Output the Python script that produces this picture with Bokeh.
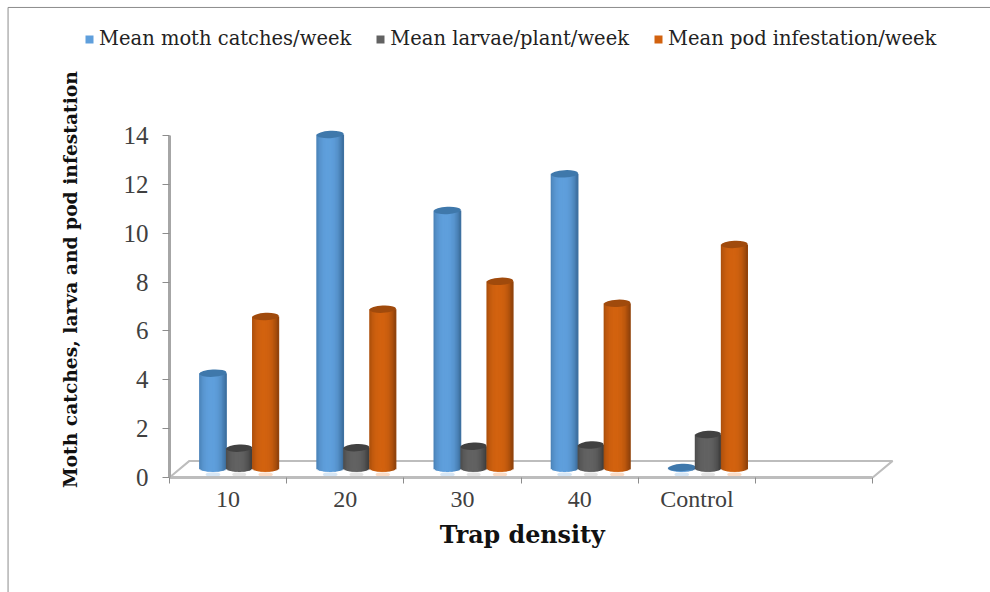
import math
from bokeh.plotting import figure
from bokeh.models import (ColumnDataSource, FixedTicker, Label, Legend, LegendItem,
                          LinearAxis, Range1d)
from bokeh.embed import file_html
from bokeh.resources import INLINE

categories = ["10", "20", "30", "40", "Control"]
moth = [3.89, 13.66, 10.55, 12.05, 0.03]
larvae = [0.82, 0.84, 0.9, 0.95, 1.38]
pods = [6.21, 6.51, 7.65, 6.75, 9.16]
series_names = ["Mean moth catches/week", "Mean larvae/plant/week", "Mean pod infestation/week"]
y_ticks = [0, 2, 4, 6, 8, 10, 12, 14]

# style
MID = ["#5F9FDC", "#626262", "#D2620F"]
EDGE = ["#3A6B99", "#3A3A3A", "#8A3F0A"]
TOP = ["#3F78AB", "#414141", "#A04A0C"]
GHOST = ["#D6E6F5", "#E4E4E4", "#FBDCC6"]
OFFSET = [0.371, 0.595, 0.820]
WIDTH = [0.23, 0.22, 0.225]
BASE = 0.38      # the bars stand this far inside the 3-D floor
CAP = 0.15       # half height of a bar's end ellipse, in y units
DEPTH_X, DEPTH_Y = 0.17, 0.68
STRIPS = 20
GRID = "#BDBDBD"
AXIS = "#A6A6A6"
SERIF = "DejaVu Serif"
NUM = "Liberation Serif"


def mix(a, b, t):
    ca = [int(a[i:i + 2], 16) for i in (1, 3, 5)]
    cb = [int(b[i:i + 2], 16) for i in (1, 3, 5)]
    return "#%02x%02x%02x" % tuple(round(x + (y - x) * t) for x, y in zip(ca, cb))


XMIN, XMAX = -1.442, 7.005
YMIN, YMAX = -4.707, 19.525
p = figure(width=990, height=592, output_backend="svg", toolbar_location=None,
           x_range=Range1d(XMIN, XMAX), y_range=Range1d(YMIN, YMAX),
           min_border=0, x_axis_type=None, y_axis_type=None, outline_line_color=None)
p.grid.visible = False

# page frame of the pasted chart
FRAME_X, FRAME_Y = -1.3775, 19.24
p.line([FRAME_X, FRAME_X, XMAX], [YMIN, FRAME_Y, FRAME_Y], line_color="#8C8C8C", line_width=1)

# 3-D floor
n = len(categories) + 1
p.line([0, DEPTH_X, n + DEPTH_X, n], [0, DEPTH_Y, DEPTH_Y, 0], line_color=GRID, line_width=2)

legend_items = []
positions = [i for i in range(len(categories))]
for k, vals in enumerate((moth, larvae, pods)):
    xc = [i + OFFSET[k] for i in positions]
    w = WIDTH[k]
    tops = [v + BASE for v in vals]
    # faint reflection on the floor
    p.ellipse(xc, [BASE - 0.26] * len(xc), width=w * 0.55, height=0.2,
              fill_color=GHOST[k], line_color=None)
    flat = p.vbar(x=xc, bottom=BASE, top=tops, width=w * 0.9, fill_color=MID[k], line_color=None)
    legend_items.append(LegendItem(label=series_names[k], renderers=[flat]))
    sx, sb, st, sc = [], [], [], []
    for c, t in zip(xc, tops):
        for j in range(STRIPS):
            u = (j + 0.5) / STRIPS
            r = 2 * u - 1
            sx.append(c + r * w / 2)
            drop = CAP * math.sqrt(1 - r * r)
            sb.append(BASE - drop)
            st.append(t)
            shade = min(1.0, abs(u - 0.45) / 0.55) ** 2.6
            sc.append(mix(MID[k], EDGE[k], shade))
    src = ColumnDataSource(dict(x=sx, b=sb, t=st, c=sc))
    p.vbar(x="x", bottom="b", top="t", width=w / STRIPS * 1.6, fill_color="c", line_color=None, source=src)
    p.ellipse(xc, tops, width=w, height=2 * CAP, angle=0.05, fill_color=TOP[k], line_color=None)

# axes
xaxis = LinearAxis(ticker=FixedTicker(ticks=[i + 0.5 for i in positions],
                                      minor_ticks=list(range(n + 1))),
                   bounds=(0, n), fixed_location=0)
xaxis.major_label_overrides = {i + 0.5: c for i, c in zip(positions, categories)}
xaxis.axis_line_color = GRID
xaxis.axis_line_width = 3
xaxis.major_tick_line_color = None
xaxis.minor_tick_line_color = "#8C8C8C"
xaxis.minor_tick_in = 0
xaxis.minor_tick_out = 6
xaxis.major_label_standoff = 2
xaxis.major_label_text_font = NUM
xaxis.major_label_text_font_size = "24px"
xaxis.major_label_text_color = "#404040"
p.add_layout(xaxis, "below")

yaxis = LinearAxis(ticker=FixedTicker(ticks=y_ticks), bounds=(0, 14), fixed_location=0)
yaxis.axis_line_color = AXIS
yaxis.axis_line_width = 3
yaxis.major_tick_line_color = "#8C8C8C"
yaxis.major_tick_line_width = 1
yaxis.major_tick_in = 0
yaxis.major_tick_out = 7
yaxis.minor_tick_line_color = None
yaxis.major_label_standoff = 14
yaxis.major_label_text_font = NUM
yaxis.major_label_text_font_size = "25px"
yaxis.major_label_text_color = "#404040"
p.add_layout(yaxis, "left")

# titles
p.add_layout(Label(x=3.01, y=-2.37, text="Trap density", text_align="center", text_baseline="middle",
                   text_font=SERIF, text_font_style="bold", text_font_size="23.8px", text_color="#111111"))
p.add_layout(Label(x=-0.85, y=8.1, text="Moth catches, larva and pod infestation", angle=math.pi / 2,
                   text_align="center", text_baseline="middle", text_font=SERIF, text_font_style="bold",
                   text_font_size="18.7px", text_color="#111111"))

legend = Legend(items=legend_items, orientation="horizontal", location=(84, 542),
                border_line_color=None, background_fill_alpha=0, padding=0, margin=0,
                glyph_width=10, glyph_height=10, label_standoff=5, spacing=24,
                label_text_font=SERIF, label_text_font_size="19.5px", label_text_color="#222222")
p.add_layout(legend, "center")

open("out.html", "w").write(file_html(p, INLINE))
